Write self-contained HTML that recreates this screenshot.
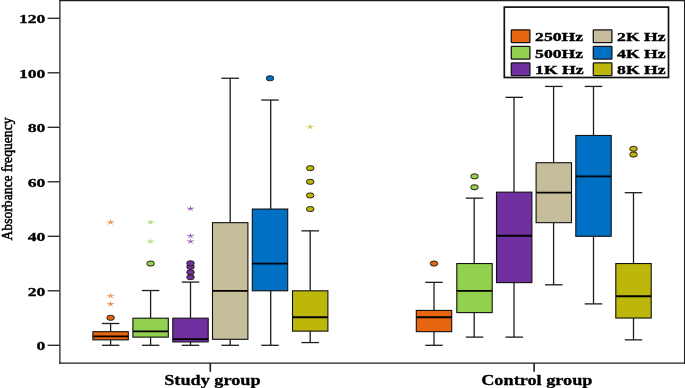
<!DOCTYPE html>
<html><head><meta charset="utf-8"><title>Absorbance frequency box plot</title>
<style>
html,body{margin:0;padding:0;background:#fff;}
body{width:685px;height:388px;overflow:hidden;font-family:"Liberation Serif",serif;}
svg{display:block;}
text{font-family:"Liberation Serif",serif;}
.b{font-weight:bold;fill:#000;}
</style></head><body>
<svg width="685" height="388" viewBox="0 0 685 388">
<rect x="0" y="0" width="685" height="388" fill="#ffffff"/>
<defs><filter id="ga" filterUnits="userSpaceOnUse" x="0" y="0" width="685" height="388" color-interpolation-filters="sRGB"><feOffset dx="0" dy="0"/></filter></defs>
<g filter="url(#ga)">

<g stroke="#1e1e1e" stroke-width="1.25" fill="none">
<line x1="59.9" y1="0" x2="59.9" y2="363.9"/>
<line x1="59.3" y1="0.6" x2="685" y2="0.6"/>
<line x1="59.2" y1="363.2" x2="685" y2="363.2"/>
<line x1="684.6" y1="0" x2="684.6" y2="363.9"/>
</g>
<g stroke="#1e1e1e" stroke-width="1.3">
<line x1="47.6" y1="345.30" x2="59.5" y2="345.30"/>
<line x1="47.6" y1="290.80" x2="59.5" y2="290.80"/>
<line x1="47.6" y1="236.30" x2="59.5" y2="236.30"/>
<line x1="47.6" y1="181.80" x2="59.5" y2="181.80"/>
<line x1="47.6" y1="127.30" x2="59.5" y2="127.30"/>
<line x1="47.6" y1="72.80" x2="59.5" y2="72.80"/>
<line x1="47.6" y1="18.30" x2="59.5" y2="18.30"/>
<line x1="210.3" y1="363" x2="210.3" y2="371.8" stroke-width="1.6"/>
<line x1="534.1" y1="363" x2="534.1" y2="371.8" stroke-width="1.6"/>
</g>
<text transform="translate(45.40,350.40) scale(1.33,1)" class="b" font-size="13.3" text-anchor="end" stroke="#000" stroke-width="0.3">0</text>
<text transform="translate(45.40,295.90) scale(1.33,1)" class="b" font-size="13.3" text-anchor="end" stroke="#000" stroke-width="0.3">20</text>
<text transform="translate(45.40,241.40) scale(1.33,1)" class="b" font-size="13.3" text-anchor="end" stroke="#000" stroke-width="0.3">40</text>
<text transform="translate(45.40,186.90) scale(1.33,1)" class="b" font-size="13.3" text-anchor="end" stroke="#000" stroke-width="0.3">60</text>
<text transform="translate(45.40,132.40) scale(1.33,1)" class="b" font-size="13.3" text-anchor="end" stroke="#000" stroke-width="0.3">80</text>
<text transform="translate(45.40,77.90) scale(1.33,1)" class="b" font-size="13.3" text-anchor="end" stroke="#000" stroke-width="0.3">100</text>
<text transform="translate(45.40,23.40) scale(1.33,1)" class="b" font-size="13.3" text-anchor="end" stroke="#000" stroke-width="0.3">120</text>
<text transform="translate(164.20,384.90) scale(1.217,1)" class="b" font-size="15" text-anchor="start" stroke="#000" stroke-width="0.3">Study group</text>
<text transform="translate(481.20,384.90) scale(1.217,1)" class="b" font-size="15" text-anchor="start" stroke="#000" stroke-width="0.3">Control group</text>
<text transform="translate(12.4,179.0) rotate(-90) scale(1,1.08)" text-anchor="middle" font-size="13.65" fill="#000" stroke="#000" stroke-width="0.5">Absorbance frequency</text>
<g stroke="#1c1c1c" stroke-width="1.3">
<line x1="110.60" y1="323.50" x2="110.60" y2="331.68"/>
<line x1="110.60" y1="339.85" x2="110.60" y2="345.30"/>
<line x1="101.85" y1="323.50" x2="119.35" y2="323.50"/>
<line x1="101.85" y1="345.30" x2="119.35" y2="345.30"/>
</g>
<rect x="92.90" y="331.68" width="35.4" height="8.18" fill="#E8650F" stroke="#111" stroke-width="1.1"/>
<line x1="92.90" y1="336.31" x2="128.30" y2="336.31" stroke="#000" stroke-width="1.8"/>
<rect x="106.90" y="315.33" width="7.4" height="4.9" rx="3.0" ry="2.3" fill="#E8650F" stroke="#241d16" stroke-width="1.0"/>
<polygon points="110.60,301.32 110.10,303.59 106.89,303.23 109.79,304.26 108.30,306.30 110.60,304.68 112.90,306.30 111.41,304.26 114.31,303.23 111.10,303.59" fill="#E8650F" stroke="#E8650F" stroke-width="0.3" stroke-linejoin="round" opacity="0.85"/>
<polygon points="110.60,293.15 110.10,295.41 106.89,295.05 109.79,296.09 108.30,298.12 110.60,296.50 112.90,298.12 111.41,296.09 114.31,295.05 111.10,295.41" fill="#E8650F" stroke="#E8650F" stroke-width="0.3" stroke-linejoin="round" opacity="0.85"/>
<polygon points="110.60,219.58 110.10,221.84 106.89,221.48 109.79,222.51 108.30,224.55 110.60,222.93 112.90,224.55 111.41,222.51 114.31,221.48 111.10,221.84" fill="#E8650F" stroke="#E8650F" stroke-width="0.3" stroke-linejoin="round" opacity="0.85"/>
<g stroke="#1c1c1c" stroke-width="1.3">
<line x1="150.60" y1="290.53" x2="150.60" y2="318.19"/>
<line x1="150.60" y1="337.12" x2="150.60" y2="345.30"/>
<line x1="141.85" y1="290.53" x2="159.35" y2="290.53"/>
<line x1="141.85" y1="345.30" x2="159.35" y2="345.30"/>
</g>
<rect x="132.90" y="318.19" width="35.4" height="18.94" fill="#92D050" stroke="#111" stroke-width="1.1"/>
<line x1="132.90" y1="331.40" x2="168.30" y2="331.40" stroke="#000" stroke-width="1.8"/>
<rect x="146.90" y="261.10" width="7.4" height="4.9" rx="3.0" ry="2.3" fill="#92D050" stroke="#241d16" stroke-width="1.0"/>
<polygon points="150.60,238.65 150.10,240.91 146.89,240.55 149.79,241.59 148.30,243.62 150.60,242.00 152.90,243.62 151.41,241.59 154.31,240.55 151.10,240.91" fill="#92D050" stroke="#92D050" stroke-width="0.3" stroke-linejoin="round" opacity="0.85"/>
<polygon points="150.60,219.58 150.10,221.84 146.89,221.48 149.79,222.51 148.30,224.55 150.60,222.93 152.90,224.55 151.41,222.51 154.31,221.48 151.10,221.84" fill="#92D050" stroke="#92D050" stroke-width="0.3" stroke-linejoin="round" opacity="0.85"/>
<g stroke="#1c1c1c" stroke-width="1.3">
<line x1="190.50" y1="282.08" x2="190.50" y2="318.19"/>
<line x1="190.50" y1="341.89" x2="190.50" y2="345.30"/>
<line x1="181.75" y1="282.08" x2="199.25" y2="282.08"/>
<line x1="181.75" y1="345.30" x2="199.25" y2="345.30"/>
</g>
<rect x="172.80" y="318.19" width="35.4" height="23.71" fill="#7030A0" stroke="#111" stroke-width="1.1"/>
<line x1="172.80" y1="339.03" x2="208.20" y2="339.03" stroke="#000" stroke-width="1.8"/>
<rect x="186.80" y="274.73" width="7.4" height="4.9" rx="3.0" ry="2.3" fill="#7030A0" stroke="#241d16" stroke-width="1.0"/>
<rect x="186.80" y="269.82" width="7.4" height="4.9" rx="3.0" ry="2.3" fill="#7030A0" stroke="#241d16" stroke-width="1.0"/>
<rect x="186.80" y="264.37" width="7.4" height="4.9" rx="3.0" ry="2.3" fill="#7030A0" stroke="#241d16" stroke-width="1.0"/>
<rect x="186.80" y="260.83" width="7.4" height="4.9" rx="3.0" ry="2.3" fill="#7030A0" stroke="#241d16" stroke-width="1.0"/>
<polygon points="190.50,238.65 190.00,240.91 186.79,240.55 189.69,241.59 188.20,243.62 190.50,242.00 192.80,243.62 191.31,241.59 194.21,240.55 191.00,240.91" fill="#7030A0" stroke="#7030A0" stroke-width="0.3" stroke-linejoin="round" opacity="0.85"/>
<polygon points="190.50,233.20 190.00,235.46 186.79,235.10 189.69,236.14 188.20,238.17 190.50,236.55 192.80,238.17 191.31,236.14 194.21,235.10 191.00,235.46" fill="#7030A0" stroke="#7030A0" stroke-width="0.3" stroke-linejoin="round" opacity="0.85"/>
<polygon points="190.50,205.95 190.00,208.21 186.79,207.85 189.69,208.89 188.20,210.92 190.50,209.30 192.80,210.92 191.31,208.89 194.21,207.85 191.00,208.21" fill="#7030A0" stroke="#7030A0" stroke-width="0.3" stroke-linejoin="round" opacity="0.85"/>
<g stroke="#1c1c1c" stroke-width="1.3">
<line x1="230.20" y1="78.25" x2="230.20" y2="222.68"/>
<line x1="230.20" y1="339.31" x2="230.20" y2="345.30"/>
<line x1="221.45" y1="78.25" x2="238.95" y2="78.25"/>
<line x1="221.45" y1="345.30" x2="238.95" y2="345.30"/>
</g>
<rect x="212.50" y="222.68" width="35.4" height="116.63" fill="#C6BE9B" stroke="#111" stroke-width="1.1"/>
<line x1="212.50" y1="290.80" x2="247.90" y2="290.80" stroke="#000" stroke-width="1.8"/>
<g stroke="#1c1c1c" stroke-width="1.3">
<line x1="270.70" y1="100.05" x2="270.70" y2="209.05"/>
<line x1="270.70" y1="290.80" x2="270.70" y2="345.30"/>
<line x1="261.25" y1="100.05" x2="278.75" y2="100.05"/>
<line x1="261.25" y1="345.30" x2="278.75" y2="345.30"/>
</g>
<rect x="252.30" y="209.05" width="35.4" height="81.75" fill="#0070C4" stroke="#111" stroke-width="1.1"/>
<line x1="252.30" y1="263.55" x2="287.70" y2="263.55" stroke="#000" stroke-width="1.8"/>
<rect x="266.30" y="75.80" width="7.4" height="4.9" rx="3.0" ry="2.3" fill="#0070C4" stroke="#241d16" stroke-width="1.0"/>
<g stroke="#1c1c1c" stroke-width="1.3">
<line x1="310.20" y1="230.85" x2="310.20" y2="290.80"/>
<line x1="310.20" y1="331.13" x2="310.20" y2="342.57"/>
<line x1="301.45" y1="230.85" x2="318.95" y2="230.85"/>
<line x1="301.45" y1="342.57" x2="318.95" y2="342.57"/>
</g>
<rect x="292.50" y="290.80" width="35.4" height="40.33" fill="#BDB70B" stroke="#111" stroke-width="1.1"/>
<line x1="292.50" y1="317.23" x2="327.90" y2="317.23" stroke="#000" stroke-width="1.8"/>
<rect x="306.50" y="206.60" width="7.4" height="4.9" rx="3.0" ry="2.3" fill="#BDB70B" stroke="#241d16" stroke-width="1.0"/>
<rect x="306.50" y="192.98" width="7.4" height="4.9" rx="3.0" ry="2.3" fill="#BDB70B" stroke="#241d16" stroke-width="1.0"/>
<rect x="306.50" y="179.35" width="7.4" height="4.9" rx="3.0" ry="2.3" fill="#BDB70B" stroke="#241d16" stroke-width="1.0"/>
<rect x="306.50" y="165.73" width="7.4" height="4.9" rx="3.0" ry="2.3" fill="#BDB70B" stroke="#241d16" stroke-width="1.0"/>
<polygon points="310.20,124.20 309.70,126.46 306.49,126.10 309.39,127.14 307.90,129.17 310.20,127.55 312.50,129.17 311.01,127.14 313.91,126.10 310.70,126.46" fill="#BDB70B" stroke="#BDB70B" stroke-width="0.3" stroke-linejoin="round" opacity="0.85"/>
<g stroke="#1c1c1c" stroke-width="1.3">
<line x1="434.00" y1="282.35" x2="434.00" y2="310.42"/>
<line x1="434.00" y1="331.68" x2="434.00" y2="345.30"/>
<line x1="425.25" y1="282.35" x2="442.75" y2="282.35"/>
<line x1="425.25" y1="345.30" x2="442.75" y2="345.30"/>
</g>
<rect x="416.30" y="310.42" width="35.4" height="21.25" fill="#E8650F" stroke="#111" stroke-width="1.1"/>
<line x1="416.30" y1="317.23" x2="451.70" y2="317.23" stroke="#000" stroke-width="1.8"/>
<rect x="430.30" y="261.10" width="7.4" height="4.9" rx="3.0" ry="2.3" fill="#E8650F" stroke="#241d16" stroke-width="1.0"/>
<g stroke="#1c1c1c" stroke-width="1.3">
<line x1="474.20" y1="198.15" x2="474.20" y2="263.55"/>
<line x1="474.20" y1="312.60" x2="474.20" y2="337.12"/>
<line x1="465.75" y1="198.15" x2="483.25" y2="198.15"/>
<line x1="465.75" y1="337.12" x2="483.25" y2="337.12"/>
</g>
<rect x="456.80" y="263.55" width="35.4" height="49.05" fill="#92D050" stroke="#111" stroke-width="1.1"/>
<line x1="456.80" y1="290.80" x2="492.20" y2="290.80" stroke="#000" stroke-width="1.8"/>
<rect x="470.80" y="184.80" width="7.4" height="4.9" rx="3.0" ry="2.3" fill="#92D050" stroke="#241d16" stroke-width="1.0"/>
<rect x="470.80" y="173.90" width="7.4" height="4.9" rx="3.0" ry="2.3" fill="#92D050" stroke="#241d16" stroke-width="1.0"/>
<g stroke="#1c1c1c" stroke-width="1.3">
<line x1="514.00" y1="97.33" x2="514.00" y2="192.16"/>
<line x1="514.00" y1="282.62" x2="514.00" y2="337.12"/>
<line x1="505.45" y1="97.33" x2="522.95" y2="97.33"/>
<line x1="505.45" y1="337.12" x2="522.95" y2="337.12"/>
</g>
<rect x="496.50" y="192.16" width="35.4" height="90.47" fill="#7030A0" stroke="#111" stroke-width="1.1"/>
<line x1="496.50" y1="235.75" x2="531.90" y2="235.75" stroke="#000" stroke-width="1.8"/>
<g stroke="#1c1c1c" stroke-width="1.3">
<line x1="553.60" y1="86.43" x2="553.60" y2="162.72"/>
<line x1="553.60" y1="222.68" x2="553.60" y2="284.81"/>
<line x1="545.05" y1="86.43" x2="562.55" y2="86.43"/>
<line x1="545.05" y1="284.81" x2="562.55" y2="284.81"/>
</g>
<rect x="536.10" y="162.72" width="35.4" height="59.95" fill="#C6BE9B" stroke="#111" stroke-width="1.1"/>
<line x1="536.10" y1="192.70" x2="571.50" y2="192.70" stroke="#000" stroke-width="1.8"/>
<g stroke="#1c1c1c" stroke-width="1.3">
<line x1="593.50" y1="86.43" x2="593.50" y2="135.47"/>
<line x1="593.50" y1="236.30" x2="593.50" y2="303.88"/>
<line x1="584.75" y1="86.43" x2="602.25" y2="86.43"/>
<line x1="584.75" y1="303.88" x2="602.25" y2="303.88"/>
</g>
<rect x="575.80" y="135.47" width="35.4" height="100.83" fill="#0070C4" stroke="#111" stroke-width="1.1"/>
<line x1="575.80" y1="176.35" x2="611.20" y2="176.35" stroke="#000" stroke-width="1.8"/>
<g stroke="#1c1c1c" stroke-width="1.3">
<line x1="633.50" y1="192.70" x2="633.50" y2="263.55"/>
<line x1="633.50" y1="318.05" x2="633.50" y2="339.85"/>
<line x1="624.75" y1="192.70" x2="642.25" y2="192.70"/>
<line x1="624.75" y1="339.85" x2="642.25" y2="339.85"/>
</g>
<rect x="615.80" y="263.55" width="35.4" height="54.50" fill="#BDB70B" stroke="#111" stroke-width="1.1"/>
<line x1="615.80" y1="296.25" x2="651.20" y2="296.25" stroke="#000" stroke-width="1.8"/>
<rect x="629.80" y="152.10" width="7.4" height="4.9" rx="3.0" ry="2.3" fill="#BDB70B" stroke="#241d16" stroke-width="1.0"/>
<rect x="629.80" y="146.38" width="7.4" height="4.9" rx="3.0" ry="2.3" fill="#BDB70B" stroke="#241d16" stroke-width="1.0"/>
<rect x="504.3" y="7.1" width="164.2" height="70.4" fill="#fff" stroke="#111" stroke-width="1.7"/>
<rect x="511.30" y="29.80" width="18.6" height="12.8" rx="0.6" fill="#E8650F" stroke="#151515" stroke-width="1.3"/>
<text transform="translate(535.10,41.00) scale(1.33,1)" class="b" font-size="13.3" text-anchor="start" stroke="#000" stroke-width="0.38">250Hz</text>
<rect x="511.30" y="46.30" width="18.6" height="12.8" rx="0.6" fill="#92D050" stroke="#151515" stroke-width="1.3"/>
<text transform="translate(535.10,57.50) scale(1.33,1)" class="b" font-size="13.3" text-anchor="start" stroke="#000" stroke-width="0.38">500Hz</text>
<rect x="511.30" y="62.90" width="18.6" height="12.8" rx="0.6" fill="#7030A0" stroke="#151515" stroke-width="1.3"/>
<text transform="translate(535.10,74.10) scale(1.33,1)" class="b" font-size="13.3" text-anchor="start" stroke="#000" stroke-width="0.38">1K Hz</text>
<rect x="593.30" y="29.80" width="18.6" height="12.8" rx="0.6" fill="#C6BE9B" stroke="#151515" stroke-width="1.3"/>
<text transform="translate(617.10,41.00) scale(1.33,1)" class="b" font-size="13.3" text-anchor="start" stroke="#000" stroke-width="0.38">2K Hz</text>
<rect x="593.30" y="46.30" width="18.6" height="12.8" rx="0.6" fill="#0070C4" stroke="#151515" stroke-width="1.3"/>
<text transform="translate(617.10,57.50) scale(1.33,1)" class="b" font-size="13.3" text-anchor="start" stroke="#000" stroke-width="0.38">4K Hz</text>
<rect x="593.30" y="62.90" width="18.6" height="12.8" rx="0.6" fill="#BDB70B" stroke="#151515" stroke-width="1.3"/>
<text transform="translate(617.10,74.10) scale(1.33,1)" class="b" font-size="13.3" text-anchor="start" stroke="#000" stroke-width="0.38">8K Hz</text>
</g></svg></body></html>
